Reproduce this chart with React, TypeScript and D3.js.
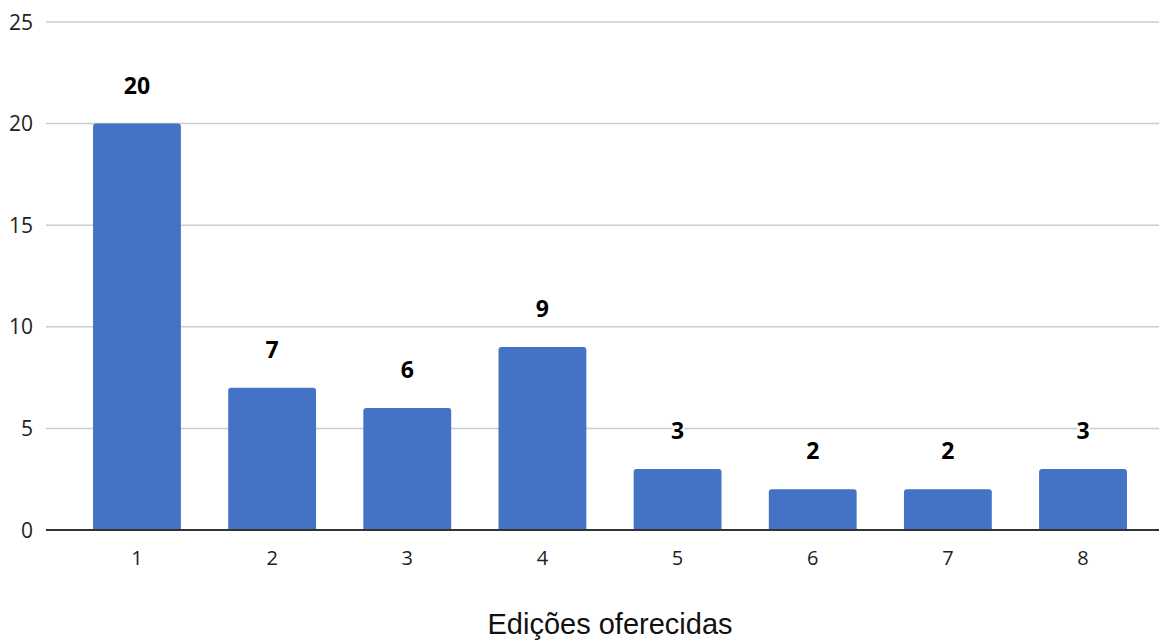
import React from "react";
import * as d3 from "d3";

const categories = ["1", "2", "3", "4", "5", "6", "7", "8"];
const values = [20, 7, 6, 9, 3, 2, 2, 3];
const yTicks = [0, 5, 10, 15, 20, 25];
const xTitle = "Edições oferecidas";

const W = 1159;
const H = 640;

export default function App() {
  const x = d3.scaleBand<string>().domain(categories).range([69.4, 1150.6]).paddingInner(0.35).paddingOuter(0.175);
  const y = d3.scaleLinear().domain([0, 25]).range([530, 22]);
  const bw = x.bandwidth();
  const r = 3;
  const barPath = (x0: number, y0: number, w: number, h: number) => {
    const p = d3.path();
    p.moveTo(x0, y0 + h);
    p.lineTo(x0, y0 + r);
    p.arcTo(x0, y0, x0 + r, y0, r);
    p.lineTo(x0 + w - r, y0);
    p.arcTo(x0 + w, y0, x0 + w, y0 + r, r);
    p.lineTo(x0 + w, y0 + h);
    p.closePath();
    return p.toString();
  };
  return (
    <svg width={W} height={H} style={{ position: "absolute", left: 0, top: 0, background: "#fff" }}>
      <rect width={W} height={H} fill="#fff" />
      {yTicks.map((t) => (
        <g key={t}>
          {t !== 0 && <line x1={46} x2={W} y1={y(t)} y2={y(t)} stroke="#cccccc" strokeWidth={1.5} />}
          <text x={33} y={y(t)} dy="0.36em" textAnchor="end" fontFamily="'Open Sans', sans-serif" fontSize={21} fill="#222">
            {t}
          </text>
        </g>
      ))}
      {categories.map((c, i) => {
        const x0 = x(c)!;
        const top = y(values[i]);
        return (
          <g key={c}>
            <path d={barPath(x0, top, bw, y(0) - top)} fill="#4472C4" />
            <text
              x={x0 + bw / 2}
              y={top - 30}
              textAnchor="middle"
              fontFamily="'Open Sans', sans-serif"
              fontWeight="bold"
              fontSize={23}
              fill="#000"
              stroke="#fff"
              strokeWidth={4}
              paintOrder="stroke"
            >
              {values[i]}
            </text>
            <text x={x0 + bw / 2} y={565} textAnchor="middle" fontFamily="'Open Sans', sans-serif" fontSize={20} fill="#222">
              {c}
            </text>
          </g>
        );
      })}
      <line x1={46} x2={W} y1={y(0)} y2={y(0)} stroke="#333" strokeWidth={2} />
      <text x={610} y={634} textAnchor="middle" fontFamily="'Liberation Sans', Arial, sans-serif" fontSize={29} fill="#111">
        {xTitle}
      </text>
    </svg>
  );
}
